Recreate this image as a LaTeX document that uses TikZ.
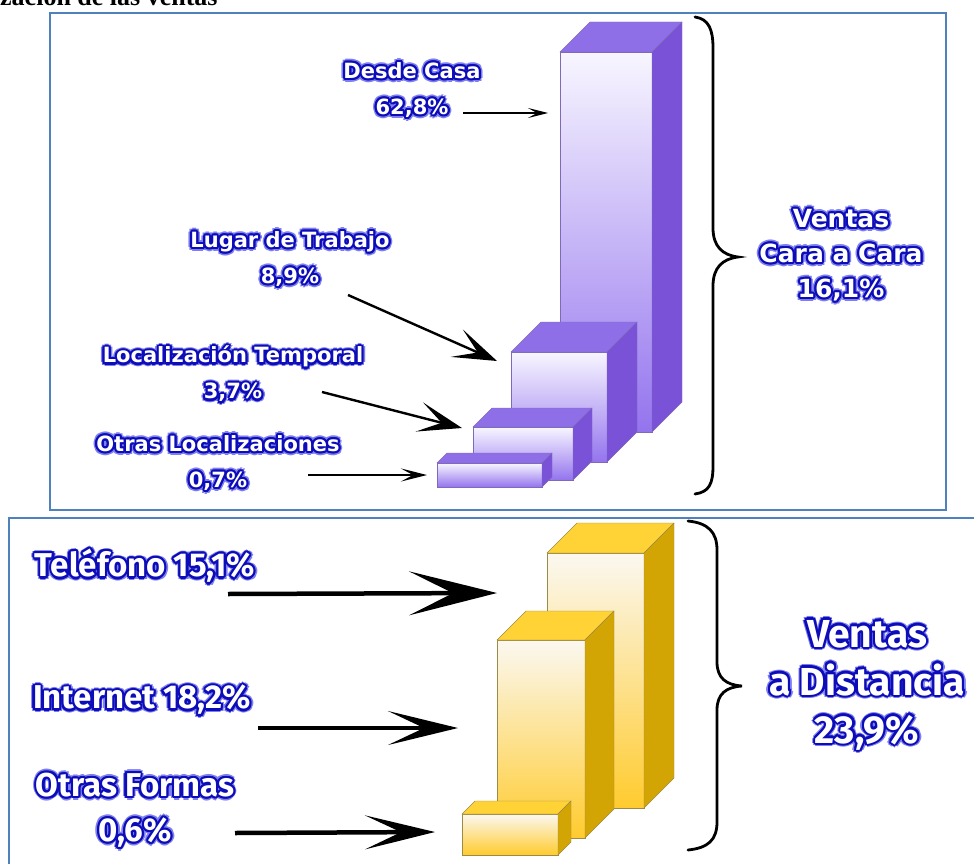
\documentclass[tikz,border=0pt]{standalone}
\usepackage{fontspec}
\setmainfont{Liberation Serif}
\newfontfamily\lblfont{DejaVu Sans}
\newfontfamily\bigfont{Fira Sans}
\usetikzlibrary{arrows.meta,calc}

\definecolor{panelblue}{HTML}{4F81BD}
\definecolor{glowblue}{HTML}{0C0CB8}
\definecolor{glowlite}{HTML}{7E7EEE}
\definecolor{purpfronta}{HTML}{F8F6FF}
\definecolor{purpfrontb}{HTML}{D4C7FA}
\definecolor{purpfrontc}{HTML}{9474EE}
\definecolor{purptop}{HTML}{8F6FE8}
\definecolor{purpside}{HTML}{7A52D8}
\definecolor{purpedge}{HTML}{7E6AB8}
\definecolor{goldfronta}{HTML}{FBF8F1}
\definecolor{goldfrontb}{HTML}{FAE6B4}
\definecolor{goldfrontc}{HTML}{FFCB2E}
\definecolor{goldtop}{HTML}{FFD235}
\definecolor{goldside}{HTML}{D3A504}
\definecolor{goldedge}{HTML}{9C8A48}

% 3d bar: name, left, right, top, bottom, depth, colour family
\newcommand\cubebar[7]{%
  \coordinate (#1) at (#2,#4);
  \shade[top color=#7fronta, middle color=#7frontb, bottom color=#7frontc] (#2,#4) rectangle (#3,#5);
  \draw[#7edge] (#2,#4) rectangle (#3,#5);
  \filldraw[fill=#7top, draw=#7edge] (#2,#4) -- (#2+#6,#4-#6) -- (#3+#6,#4-#6) -- (#3,#4) -- cycle;
  \filldraw[fill=#7side, draw=#7edge] (#3,#4) -- (#3+#6,#4-#6) -- (#3+#6,#5-#6) -- (#3,#5) -- cycle;
}

% white text with a blue glow: name, position, style, text
\newcommand\glowlabel[4]{%
  \foreach \a in {0,45,...,315}
    \node[#3, text=glowlite] at ($(#2)+(\a:3.8)$) {#4};
  \foreach \a in {0,30,...,330}
    \node[#3, text=glowblue] at ($(#2)+(\a:2.2)$) {#4};
  \node[#3, text=white] (#1) at (#2) {#4};
}

\begin{document}
\begin{tikzpicture}[x=1pt,y=-1pt,
  toplbl/.style={font=\lblfont\bfseries\fontsize{21}{36}\selectfont, align=center, inner sep=0pt},
  sidelbl/.style={font=\lblfont\bfseries\fontsize{25}{35}\selectfont, align=center, inner sep=0pt},
  botlbl/.style={font=\bigfont\bfseries\fontsize{33}{45}\selectfont, align=center, inner sep=0pt},
  biglbl/.style={font=\bigfont\bfseries\fontsize{39}{48}\selectfont, align=center, inner sep=0pt},
  panel/.style={draw=panelblue, line width=2.5pt},
  brace/.style={line width=2.8pt, line cap=round},
  ptr/.style={line width=1.8pt, -{Stealth[length=20pt,width=10pt,inset=9pt]}},
  bigptr/.style={line width=2.4pt, -{Stealth[length=44pt,width=30pt,inset=23pt]}},
  fatptr/.style={line width=4.5pt, -{Stealth[length=70pt,width=34pt,inset=36pt]}},
]
\useasboundingbox (0,0) rectangle (974,864);
\clip (0,0) rectangle (974,864);

% heading, cut at the top
\node[anchor=base west, font=\bfseries\fontsize{26}{30}\selectfont, inner sep=0pt] (title) at (0,6) {zación de las ventas};

% panels
\draw[panel] (50,13) rectangle (946,510);
\draw[panel] (9,518) rectangle (990,880);

% face to face sales
\cubebar{casa}{560}{652}{52}{432}{30}{purp}
\cubebar{trabajo}{511}{607}{352}{462}{30}{purp}
\cubebar{temporal}{473}{573}{427}{480}{19}{purp}
\cubebar{otrasloc}{437}{542}{463}{487}{10}{purp}

\glowlabel{lcasa}{412,90}{toplbl}{Desde Casa\\62,8\%}
\glowlabel{ltrabajo}{290,259}{toplbl}{Lugar de Trabajo\\8,9\%}
\glowlabel{ltemporal}{233,374}{toplbl}{Localización Temporal\\3,7\%}
\glowlabel{lotrasloc}{218,463}{toplbl}{Otras Localizaciones\\0,7\%}

\coordinate (casa-s) at (463,113);     \coordinate (casa-e) at (548,113);
\coordinate (trabajo-s) at (348,295);  \coordinate (trabajo-e) at (497,361);
\coordinate (temporal-s) at (322,392); \coordinate (temporal-e) at (462,428);
\coordinate (otrasloc-s) at (308,475); \coordinate (otrasloc-e) at (427,475);
\draw[ptr] (casa-s) -- (casa-e);
\draw[bigptr] (trabajo-s) -- (trabajo-e);
\draw[bigptr] (temporal-s) -- (temporal-e);
\draw[ptr,-{Stealth[length=26pt,width=13pt,inset=12pt]}] (otrasloc-s) -- (otrasloc-e);

\draw[brace] (695,17) .. controls (709,19) and (713,30) .. (713,48) -- (713,228)
  .. controls (713,246) and (722,255) .. (738,257)
  .. controls (722,259) and (713,268) .. (713,286) -- (713,466)
  .. controls (713,484) and (709,492) .. (695,494);
\glowlabel{lcara}{841,255}{sidelbl}{Ventas\\Cara a Cara\\16,1\%}

% distance sales
\cubebar{telefono}{547}{644}{553}{808}{30}{gold}
\cubebar{internet}{497}{585}{640}{838}{29}{gold}
\cubebar{otrasformas}{462}{558}{814}{855}{13}{gold}

\glowlabel{ltelefono}{145,566}{botlbl}{Teléfono 15,1\%}
\glowlabel{linternet}{142,700}{botlbl}{Internet 18,2\%}
\glowlabel{lotrasformas}{135,810}{botlbl}{Otras Formas\\0,6\%}

\coordinate (telefono-s) at (228,594);    \coordinate (telefono-e) at (497,593);
\coordinate (internet-s) at (258,728);    \coordinate (internet-e) at (458,728);
\coordinate (otrasformas-s) at (235,833); \coordinate (otrasformas-e) at (435,832);
\draw[fatptr,-{Stealth[length=88pt,width=44pt,inset=44pt]}] (telefono-s) -- (telefono-e);
\draw[fatptr] (internet-s) -- (internet-e);
\draw[fatptr] (otrasformas-s) -- (otrasformas-e);

\draw[brace] (688,521) .. controls (708,523) and (717,532) .. (717,550) -- (717,662)
  .. controls (717,678) and (726,685) .. (742,686)
  .. controls (726,687) and (717,694) .. (717,710) -- (717,822)
  .. controls (717,840) and (708,848) .. (688,850);
\glowlabel{ldistancia}{867,685}{biglbl}{Ventas\\a Distancia\\23,9\%}
\end{tikzpicture}
\end{document}
